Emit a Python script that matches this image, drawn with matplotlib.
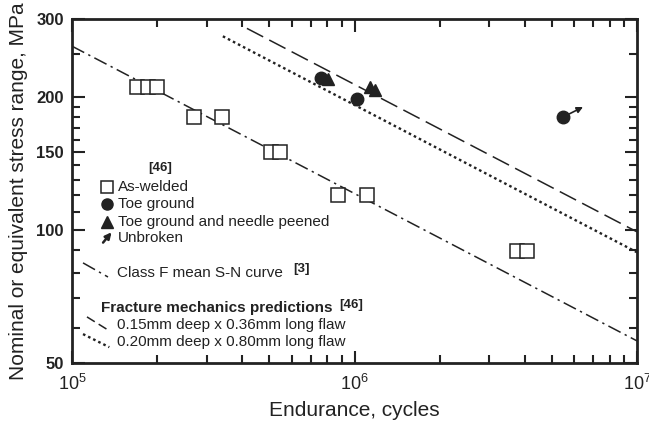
import numpy as np
import matplotlib
matplotlib.use("Agg")
import matplotlib.pyplot as plt
from matplotlib.ticker import FixedLocator, NullFormatter, FixedFormatter

plt.rcParams['font.family'] = ['Liberation Sans', 'DejaVu Sans']
plt.rcParams['mathtext.fontset'] = 'custom'
plt.rcParams['mathtext.rm'] = 'Liberation Sans'
plt.rcParams['mathtext.it'] = 'Liberation Sans'

# ---- data ----
aswelded_N = [1.70e5, 1.86e5, 2.0e5, 2.70e5, 3.40e5, 5.06e5, 5.45e5, 8.74e5, 1.107e6, 3.76e6, 4.08e6]
aswelded_S = [210, 210, 210, 180, 180, 150, 150, 120, 120, 89.6, 89.6]

toeground_N = [7.61e5, 1.02e6, 5.47e6]
toeground_S = [220.5, 197.8, 180]

peened_N = [8.06e5, 1.135e6, 1.18e6]
peened_S = [220, 210, 207]

unbroken_from = (5.47e6, 180)
unbroken_to = (6.44e6, 189.7)

# S-N curves: S = S_ref * (N_ref / N)^(1/m)
classF_Nrange = [1e5, 1e7]
classF_S1e7 = 56.1
flaw015_Nrange = [4.16e5, 1e7]
flaw015_S1e7 = 99.0
flaw020_Nrange = [3.42e5, 1e7]
flaw020_S1e7 = 89.0
m_slope = 3.0

yticks_major = [50, 100, 150, 200, 300]
yticks_minor = [60, 70, 80, 90, 110, 120, 130, 140, 160, 170, 180, 190, 250]
xticks_major = [1e5, 1e6, 1e7]
xtick_labels = [r'$10^5$', r'$10^6$', r'$10^7$']


def sn_curve(Nrange, S1e7):
    N = np.logspace(np.log10(Nrange[0]), np.log10(Nrange[1]), 50)
    return N, S1e7 * (1e7 / N) ** (1.0 / m_slope)


fig = plt.figure(figsize=(6.49, 4.23), dpi=100)
ax = fig.add_axes([72/649, 1-363/423, 565/649, 344/423])
ax.set_xscale('log')
ax.set_yscale('log')
ax.set_xlim(1e5, 1e7)
ax.set_ylim(50, 300)

col = '#222222'
N, S = sn_curve(classF_Nrange, classF_S1e7)
ax.plot(N, S, color=col, lw=1.1, dashes=(9, 3, 1.5, 3))
N, S = sn_curve(flaw015_Nrange, flaw015_S1e7)
ax.plot(N, S, color=col, lw=1.1, dashes=(12, 4.5))
N, S = sn_curve(flaw020_Nrange, flaw020_S1e7)
ax.plot(N, S, color=col, lw=1.7, dashes=(1.1, 1.3))

ax.plot(aswelded_N, aswelded_S, 's', ms=10, mfc='white', mec=col, mew=1.1, ls='none')
ax.plot(peened_N, peened_S, '^', ms=9, mfc=col, mec=col, ls='none')
ax.plot(toeground_N, toeground_S, 'o', ms=9, mfc=col, mec=col, ls='none')
ax.annotate('', xy=unbroken_to, xytext=unbroken_from,
            arrowprops=dict(arrowstyle='-|>', color=col, lw=1.2, mutation_scale=9,
                            shrinkA=4, shrinkB=0))

# axes styling
for sp in ax.spines.values():
    sp.set_linewidth(2)
    sp.set_color(col)
ax.yaxis.set_major_locator(FixedLocator(yticks_major))
ax.yaxis.set_major_formatter(FixedFormatter([str(v) for v in yticks_major]))
ax.yaxis.set_minor_locator(FixedLocator(yticks_minor))
ax.yaxis.set_minor_formatter(NullFormatter())
ax.xaxis.set_major_locator(FixedLocator(xticks_major))
ax.xaxis.set_major_formatter(FixedFormatter(xtick_labels))
ax.xaxis.set_minor_locator(FixedLocator([k * 10**e for e in (5, 6) for k in range(2, 10)]))
ax.xaxis.set_minor_formatter(NullFormatter())
ax.tick_params(which='both', direction='in', top=True, right=True, color=col, width=1.5)
ax.tick_params(which='major', length=9)
ax.tick_params(which='minor', length=6)
ax.tick_params(axis='y', labelsize=12, pad=6)
ax.tick_params(axis='x', labelsize=13, pad=8)
for lab in ax.get_yticklabels():
    lab.set_fontweight('bold')
    lab.set_color(col)
for lab in ax.get_xticklabels():
    lab.set_color(col)

ax.set_ylabel('Nominal or equivalent stress range, MPa', fontsize=15, color=col, labelpad=6)
ax.set_xlabel('Endurance, cycles', fontsize=15, color=col, labelpad=5)

# legend (hand-laid, as in the original)
T = ax.transAxes
fs = 11
ax.text(0.156, 0.567, '[46]', transform=T, fontsize=9.5, fontweight='bold', ha='center', va='center', color=col)
rows = [0.512, 0.462, 0.411, 0.362]
ax.plot([0.062], [rows[0]], 's', transform=T, ms=8, mfc='white', mec=col, mew=1.1, clip_on=False)
ax.plot([0.062], [rows[1]], 'o', transform=T, ms=8, mfc=col, mec=col, clip_on=False)
ax.plot([0.062], [rows[2]], '^', transform=T, ms=8, mfc=col, mec=col, clip_on=False)
ax.annotate('', xy=(0.070, rows[3] + 0.018), xytext=(0.055, rows[3] - 0.012), xycoords=T,
            arrowprops=dict(arrowstyle='-|>', color=col, lw=1.8, mutation_scale=9, shrinkA=0, shrinkB=0))
labels = ['As-welded', 'Toe ground', 'Toe ground and needle peened', 'Unbroken']
for y, t in zip(rows, labels):
    ax.text(0.082, y, t, transform=T, fontsize=fs, ha='left', va='center', color=col)

ax.plot([0.0195, 0.0637], [0.291, 0.250], transform=T, color=col, lw=1.1, dashes=(9, 3, 1.5, 3))
ax.text(0.080, 0.262, 'Class F mean S-N curve', transform=T, fontsize=fs, ha='left', va='center', color=col)
ax.text(0.407, 0.272, '[3]', transform=T, fontsize=9.5, fontweight='bold', ha='center', va='center', color=col)

ax.text(0.051, 0.160, 'Fracture mechanics predictions', transform=T, fontsize=fs, fontweight='bold',
        ha='left', va='center', color=col)
ax.text(0.494, 0.168, '[46]', transform=T, fontsize=9.5, fontweight='bold', ha='center', va='center', color=col)
ax.plot([0.0265, 0.0637], [0.134, 0.096], transform=T, color=col, lw=1.1, dashes=(6, 3))
ax.text(0.080, 0.110, '0.15mm deep x 0.36mm long flaw', transform=T, fontsize=fs, ha='left', va='center', color=col)
ax.plot([0.0195, 0.066], [0.084, 0.046], transform=T, color=col, lw=1.7, dashes=(1.1, 1.3))
ax.text(0.080, 0.062, '0.20mm deep x 0.80mm long flaw', transform=T, fontsize=fs, ha='left', va='center', color=col)

fig.savefig('out.png', dpi=100, facecolor='white')
